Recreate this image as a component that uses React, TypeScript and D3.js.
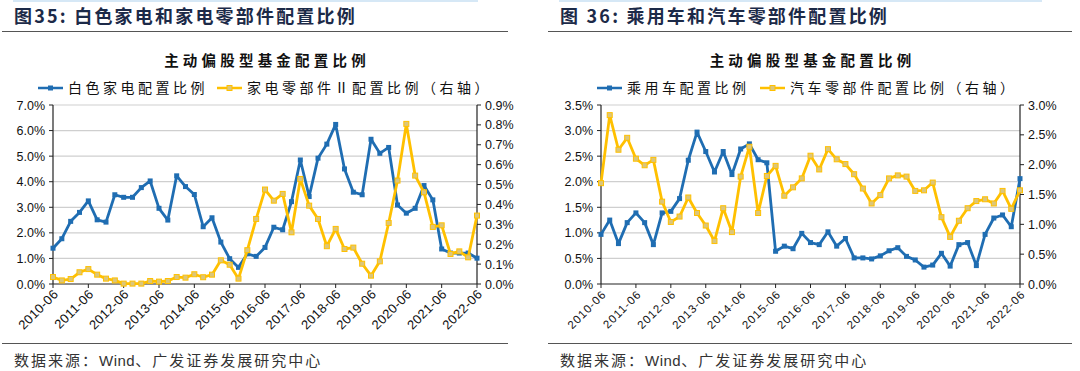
import React from 'react';
import * as d3 from 'd3';

// quarterly dates, 2010-06 .. 2022-06
const years = ['2010', '2011', '2012', '2013', '2014', '2015', '2016', '2017', '2018', '2019', '2020', '2021', '2022'];
const months = ['06', '09', '12', '03'];
const quarters: string[] = [];
years.forEach((y, yi) => {
  months.forEach((m, mi) => {
    if (yi === years.length - 1 && mi > 0) return;
    const yr = mi === 3 ? String(+y + 1) : y;
    quarters.push(yr + '-' + m);
  });
});
const tickLabels = years.map(y => y + '-06');

// fig 35
const whiteGoods = [1.40, 1.77, 2.45, 2.80, 3.25, 2.51, 2.42, 3.49, 3.39, 3.39, 3.77, 4.03, 2.96, 2.50, 4.23, 3.81, 3.50, 2.24, 2.59, 1.64, 0.99, 0.65, 1.18, 1.08, 1.43, 2.22, 2.12, 3.22, 4.85, 3.42, 4.92, 5.47, 6.24, 4.50, 3.59, 3.49, 5.66, 5.11, 5.34, 3.09, 2.77, 2.96, 3.85, 3.29, 1.37, 1.21, 1.21, 1.21, 1.01];
const applianceParts = [0.035, 0.018, 0.025, 0.059, 0.075, 0.047, 0.027, 0.018, 0.002, 0.002, 0.002, 0.015, 0.012, 0.015, 0.035, 0.032, 0.049, 0.034, 0.047, 0.119, 0.097, 0.027, 0.170, 0.327, 0.475, 0.419, 0.453, 0.260, 0.528, 0.394, 0.327, 0.190, 0.277, 0.176, 0.183, 0.102, 0.042, 0.114, 0.307, 0.520, 0.805, 0.545, 0.461, 0.287, 0.295, 0.151, 0.164, 0.134, 0.344];

// fig 36
const passengerCars = [0.97, 1.25, 0.79, 1.20, 1.39, 1.20, 0.77, 1.39, 1.42, 1.67, 2.42, 2.97, 2.59, 2.19, 2.59, 2.14, 2.64, 2.74, 2.43, 2.37, 0.64, 0.74, 0.69, 0.99, 0.81, 0.77, 1.02, 0.74, 0.89, 0.51, 0.51, 0.49, 0.55, 0.65, 0.71, 0.54, 0.47, 0.33, 0.37, 0.60, 0.35, 0.77, 0.81, 0.36, 0.97, 1.29, 1.35, 1.12, 2.06];
const autoParts = [1.69, 2.83, 2.25, 2.45, 2.10, 1.99, 2.08, 1.38, 1.04, 1.13, 1.45, 1.19, 0.98, 0.72, 1.27, 0.87, 1.80, 2.30, 1.19, 1.81, 1.98, 1.48, 1.62, 1.77, 2.15, 1.92, 2.26, 2.09, 2.01, 1.84, 1.60, 1.35, 1.49, 1.77, 1.82, 1.80, 1.56, 1.57, 1.70, 1.12, 0.79, 1.06, 1.27, 1.39, 1.42, 1.35, 1.56, 1.26, 1.57];

const BLUE = '#1f6db2';
const YELLOW = '#ffc000';
const YFILL = '#dcc67a';
const CJK = '"Noto Sans CJK SC", sans-serif';
const LAT = '"Liberation Sans", Arial, sans-serif';

type PanelProps = {
  ox: number;
  fig: string;
  title: string;
  leftName: string;
  rightName: string;
  left: number[];
  right: number[];
  leftMax: number;
  leftStep: number;
  rightMax: number;
  rightStep: number;
  plotL: number;
  plotR: number;
  legendX: number;
  legendGap: number;
  lineW: number;
  xFont: number;
  xSpacing: number;
};

function Panel(p: PanelProps) {
  const top = 105, bottom = 284;
  const x = d3.scalePoint<string>().domain(quarters).range([p.plotL, p.plotR]);
  const yl = d3.scaleLinear().domain([0, p.leftMax]).range([bottom, top]);
  const yr = d3.scaleLinear().domain([0, p.rightMax]).range([bottom, top]);
  const lTicks = d3.range(0, p.leftMax + 1e-9, p.leftStep);
  const rTicks = d3.range(0, p.rightMax + 1e-9, p.rightStep);
  const lineL = d3.line<number>().x((_, i) => x(quarters[i])!).y(d => yl(d));
  const lineR = d3.line<number>().x((_, i) => x(quarters[i])!).y(d => yr(d));
  const cx = (p.plotL + p.plotR) / 2;
  const ms = 5;
  return (
    <g transform={`translate(${p.ox},0)`}>
      <line x1={13} x2={p.lineW - 30} y1={1} y2={1} stroke="#d6e8f6" strokeWidth={2} />
      <text x={14} y={23} fontFamily={CJK} fontWeight="bold" fontSize={18} fill="#1c2a48" letterSpacing={2.2}>{p.fig}</text>
      <line x1={2} x2={p.lineW} y1={31.5} y2={31.5} stroke="#555" strokeWidth={1} />
      <text x={cx + 2} y={66} textAnchor="middle" fontFamily={CJK} fontWeight="bold" fontSize={14.5} letterSpacing={4.2} fill="#111">{p.title}</text>
      {/* legend */}
      <g transform={`translate(${p.legendX},88)`}>
        <line x1={0} x2={25} stroke={BLUE} strokeWidth={2.5} />
        <rect x={12.5 - ms / 2} y={-ms / 2} width={ms} height={ms} fill={BLUE} />
        <text x={30} y={5} fontFamily={CJK} fontSize={14} letterSpacing={3.5} fill="#111">{p.leftName}</text>
        <g transform={`translate(${p.legendGap},0)`}>
          <line x1={0} x2={25} stroke={YELLOW} strokeWidth={2.5} />
          <rect x={12.5 - ms / 2} y={-ms / 2} width={ms} height={ms} fill={YFILL} stroke={YELLOW} strokeWidth={1} />
          <text x={30} y={5} fontFamily={CJK} fontSize={14} letterSpacing={3.5} fill="#111">{p.rightName}</text>
        </g>
      </g>
      {/* grid */}
      {lTicks.slice(1).map(t => (
        <line key={'g' + t} x1={p.plotL} x2={p.plotR} y1={yl(t)} y2={yl(t)} stroke="#cfcfcf" strokeWidth={1.2} />
      ))}
      {/* left axis */}
      <line x1={p.plotL} x2={p.plotL} y1={top} y2={bottom} stroke="#222" strokeWidth={1.2} />
      {lTicks.map(t => (
        <g key={'l' + t}>
          <line x1={p.plotL - 4} x2={p.plotL} y1={yl(t)} y2={yl(t)} stroke="#222" />
          <text x={p.plotL - 8} y={yl(t) + 4.5} textAnchor="end" fontFamily={LAT} fontSize={12.5} fill="#111">{d3.format('.1%')(t / 100)}</text>
        </g>
      ))}
      {/* right axis */}
      <line x1={p.plotR} x2={p.plotR} y1={top} y2={bottom} stroke="#222" strokeWidth={1.2} />
      {rTicks.map(t => (
        <g key={'r' + t}>
          <line x1={p.plotR} x2={p.plotR + 4} y1={yr(t)} y2={yr(t)} stroke="#222" />
          <text x={p.plotR + 8} y={yr(t) + 4.5} fontFamily={LAT} fontSize={12.5} fill="#111">{d3.format('.1%')(t / 100)}</text>
        </g>
      ))}
      {/* x axis */}
      <line x1={p.plotL} x2={p.plotR} y1={bottom} y2={bottom} stroke="#222" strokeWidth={1.2} />
      {tickLabels.map(t => (
        <g key={t} transform={`translate(${x(t)},${bottom})`}>
          <line y1={0} y2={4} stroke="#222" />
          <text transform="translate(6,11) rotate(-45)" textAnchor="end" fontFamily={LAT} fontSize={p.xFont} letterSpacing={p.xSpacing} fill="#111">{t}</text>
        </g>
      ))}
      {/* series */}
      <path d={lineL(p.left) || ''} fill="none" stroke={BLUE} strokeWidth={2.8} strokeLinejoin="round" />
      {p.left.map((v, i) => (
        <rect key={'bm' + i} x={x(quarters[i])! - ms / 2} y={yl(v) - ms / 2} width={ms} height={ms} fill={BLUE} />
      ))}
      <path d={lineR(p.right) || ''} fill="none" stroke={YELLOW} strokeWidth={2.8} strokeLinejoin="round" />
      {p.right.map((v, i) => (
        <rect key={'ym' + i} x={x(quarters[i])! - ms / 2} y={yr(v) - ms / 2} width={ms} height={ms} fill={YFILL} stroke={YELLOW} strokeWidth={1} />
      ))}
      <line x1={2} x2={p.lineW} y1={343.5} y2={343.5} stroke="#555" strokeWidth={1} />
      <text x={14} y={366} fontFamily={CJK} fontSize={15} fill="#333" letterSpacing={2}>数据来源：<tspan fontFamily={LAT} letterSpacing={0.5}>Wind</tspan>、广发证券发展研究中心</text>
    </g>
  );
}

export default function App() {
  return (
    <svg width={1080} height={371} style={{ position: 'absolute', left: 0, top: 0, background: '#fff' }}>
      <rect width={1080} height={371} fill="#fff" />
      <Panel ox={0} fig="图35:  白色家电和家电零部件配置比例" title="主动偏股型基金配置比例"
        leftName="白色家电配置比例" rightName="家电零部件Ⅱ配置比例（右轴）"
        left={whiteGoods} right={applianceParts} leftMax={7} leftStep={1} rightMax={0.9} rightStep={0.1}
        plotL={53} plotR={477} legendX={38} legendGap={179} lineW={508} xFont={13} xSpacing={0.3} />
      <Panel ox={546} fig="图 36:  乘用车和汽车零部件配置比例" title="主动偏股型基金配置比例"
        leftName="乘用车配置比例" rightName="汽车零部件配置比例（右轴）"
        left={passengerCars} right={autoParts} leftMax={3.5} leftStep={0.5} rightMax={3} rightStep={0.5}
        plotL={55} plotR={474} legendX={51} legendGap={163} lineW={526} xFont={11.5} xSpacing={1} />
    </svg>
  );
}
